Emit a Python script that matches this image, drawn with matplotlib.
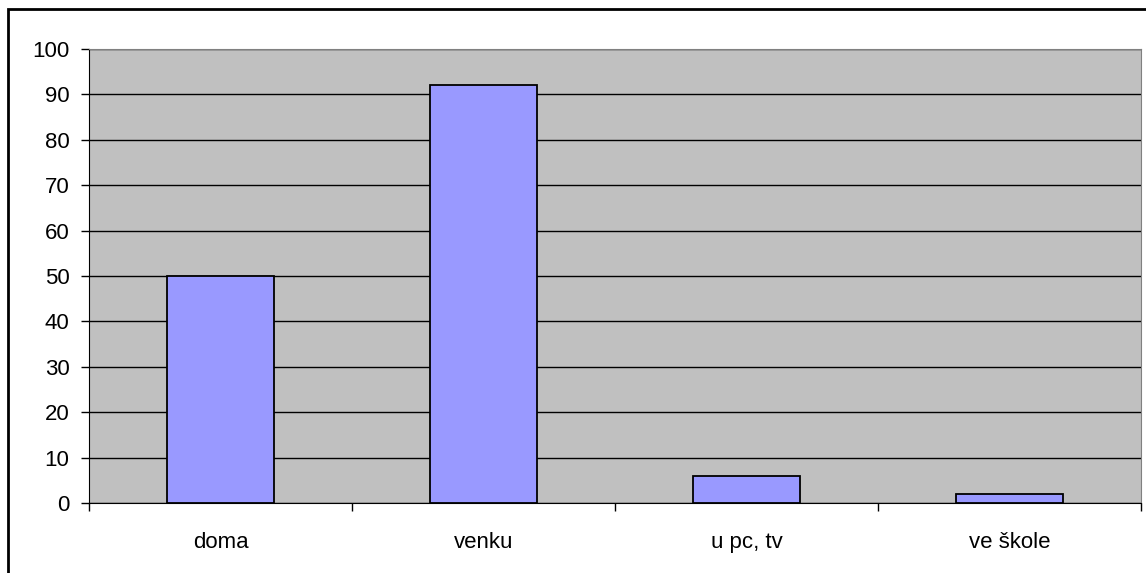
import matplotlib.pyplot as plt
from matplotlib.patches import Rectangle

# data
categories = ['doma', 'venku', 'u pc, tv', 've škole']
values = [50, 92, 6, 2]
yticks = [0, 10, 20, 30, 40, 50, 60, 70, 80, 90, 100]

plt.rcParams['font.family'] = ['Liberation Sans', 'DejaVu Sans']

fig = plt.figure(figsize=(11.46, 5.73), dpi=100)
ax = fig.add_axes([89 / 1146, 70 / 573, 1052 / 1146, 454 / 573])
ax.set_facecolor('#C0C0C0')

x = range(len(categories))
ax.bar(x, values, width=0.405, color='#9999FF', edgecolor='black', linewidth=1.3, zorder=3)

ax.set_xlim(-0.5, len(categories) - 0.5)
ax.set_ylim(0, 100)
ax.set_yticks(yticks)
ax.set_yticklabels([str(t) for t in yticks], fontsize=16)
ax.yaxis.grid(True, color='black', linewidth=1, zorder=1)
ax.set_axisbelow(True)

# category labels centred, ticks on category boundaries
ax.set_xticks(list(x))
ax.set_xticklabels(categories, fontsize=16)
ax.tick_params(axis='x', length=0, pad=21)
ax.set_xticks([i - 0.5 for i in range(len(categories) + 1)], minor=True)
ax.tick_params(axis='x', which='minor', length=6, direction='out', width=1)
ax.tick_params(axis='y', length=6, direction='out', width=1, pad=8)

ax.spines['top'].set_color('#808080')
ax.spines['right'].set_color('#808080')
ax.spines['left'].set_color('black')
ax.spines['bottom'].set_color('black')

# outer chart border
fig.patches.append(Rectangle((8 / 1146, -0.01), 1.02, (573 - 9) / 573 + 0.01,
                             transform=fig.transFigure, fill=False,
                             edgecolor='black', linewidth=2))

fig.savefig('out.png', dpi=100)
